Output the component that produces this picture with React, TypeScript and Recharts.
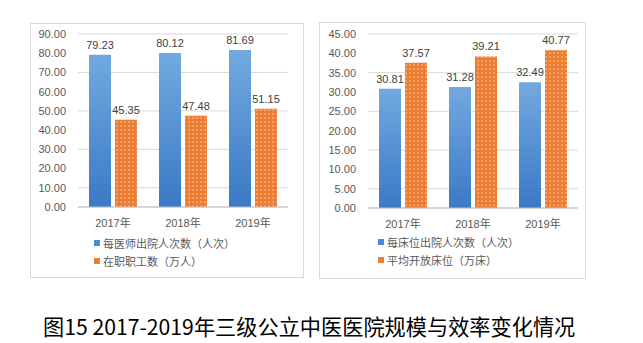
import { BarChart, Bar, XAxis, YAxis, CartesianGrid, LabelList } from "recharts";

const years = ["2017年", "2018年", "2019年"];

// left panel
const dischargePerDoctor = [79.23, 80.12, 81.69];
const staffTenThousand = [45.35, 47.48, 51.15];
const leftTicks = [0, 10, 20, 30, 40, 50, 60, 70, 80, 90];
const leftNames = ["每医师出院人次数（人次）", "在职职工数（万人）"];

// right panel
const dischargePerBed = [30.81, 31.28, 32.49];
const avgOpenBeds = [37.57, 39.21, 40.77];
const rightTicks = [0, 5, 10, 15, 20, 25, 30, 35, 40, 45];
const rightNames = ["每床位出院人次数（人次）", "平均开放床位（万床）"];

const title = "图15 2017-2019年三级公立中医医院规模与效率变化情况";

const FONT = "'Liberation Sans', 'Noto Sans CJK SC', sans-serif";
const TEXT = "#595959";
const BLUE = "#4a8ad4";
const ORANGE = "#ed7d31";

const leftData = years.map((y, i) => ({ year: y, a: dischargePerDoctor[i], b: staffTenThousand[i] }));
const rightData = years.map((y, i) => ({ year: y, a: dischargePerBed[i], b: avgOpenBeds[i] }));

function Defs({ id }: { id: string }) {
  return (
    <defs>
      <linearGradient id={`blue-${id}`} x1="0" y1="0" x2="0" y2="1">
        <stop offset="0%" stopColor="#72a9df" />
        <stop offset="100%" stopColor="#3a79c6" />
      </linearGradient>
      <pattern id={`dots-${id}`} width="4" height="4" patternUnits="userSpaceOnUse">
        <rect width="4" height="4" fill={ORANGE} />
        <rect x="1.5" y="1.5" width="1.2" height="1.2" fill="#fbe3d2" />
      </pattern>
    </defs>
  );
}

type PanelProps = {
  id: string;
  data: { year: string; a: number; b: number }[];
  ticks: number[];
  max: number;
  names: string[];
  left: number;
  top: number;
  width: number;
  height: number;
  marginLeft: number;
  marginRight: number;
  marginTop: number;
  legendX: number;
};

function Panel(p: PanelProps) {
  return (
    <div
      style={{
        position: "absolute",
        left: p.left,
        top: p.top,
        width: p.width,
        height: p.height,
        border: "1px solid #d9d9d9",
        boxSizing: "border-box",
      }}
    >
      <BarChart
        width={p.width - 2}
        height={p.height - 2}
        data={p.data}
        margin={{ top: p.marginTop, right: p.marginRight, left: 0, bottom: 0 }}
        barSize={22}
        barGap={4}
        style={{ fontFamily: FONT }}
      >
        <Defs id={p.id} />
        <CartesianGrid vertical={false} stroke="#d9d9d9" />
        <XAxis
          dataKey="year"
          height={70}
          tickLine={false}
          axisLine={{ stroke: "#bfbfbf" }}
          tickMargin={6}
          tick={{ fontSize: 11, fill: TEXT }}
        />
        <YAxis
          width={p.marginLeft}
          domain={[0, p.max]}
          ticks={p.ticks}
          tickFormatter={(v) => Number(v).toFixed(2)}
          tickLine={false}
          axisLine={false}
          tickMargin={6}
          tick={{ fontSize: 11, fill: TEXT }}
        />
        <Bar dataKey="a" fill={`url(#blue-${p.id})`} isAnimationActive={false}>
          <LabelList
            dataKey="a"
            position="top"
            offset={6}
            formatter={(v: number) => v.toFixed(2)}
            style={{ fontSize: 11, fill: "#404040" }}
          />
        </Bar>
        <Bar dataKey="b" fill={`url(#dots-${p.id})`} isAnimationActive={false}>
          <LabelList
            dataKey="b"
            position="top"
            offset={6}
            formatter={(v: number) => v.toFixed(2)}
            style={{ fontSize: 11, fill: "#404040" }}
          />
        </Bar>
      </BarChart>
      {p.names.map((n, i) => (
        <div
          key={n}
          style={{
            position: "absolute",
            left: p.legendX,
            top: 211 + i * 18,
            display: "flex",
            alignItems: "center",
            fontFamily: FONT,
            fontSize: 11,
            color: TEXT,
            whiteSpace: "nowrap",
          }}
        >
          <span
            style={{
              display: "inline-block",
              width: 6,
              height: 6,
              marginRight: 3,
              background: i === 0 ? BLUE : ORANGE,
            }}
          />
          {n}
        </div>
      ))}
    </div>
  );
}

export default function App() {
  return (
    <div style={{ position: "absolute", left: 0, top: 0, width: 643, height: 343, background: "#fff" }}>
      <Panel
        id="l"
        data={leftData}
        ticks={leftTicks}
        max={90}
        names={leftNames}
        left={30}
        top={23}
        width={274}
        height={255}
        marginLeft={47}
        marginRight={15}
        marginTop={10}
        legendX={63}
      />
      <Panel
        id="r"
        data={rightData}
        ticks={rightTicks}
        max={45}
        names={rightNames}
        left={319}
        top={22}
        width={267}
        height={257}
        marginLeft={48}
        marginRight={7}
        marginTop={11}
        legendX={58}
      />
      <div
        style={{
          position: "absolute",
          left: 43,
          top: 310,
          fontFamily: "'Noto Sans CJK SC', sans-serif",
          fontSize: 21.2,
          color: "#000",
          whiteSpace: "nowrap",
        }}
      >
        {title}
      </div>
    </div>
  );
}
